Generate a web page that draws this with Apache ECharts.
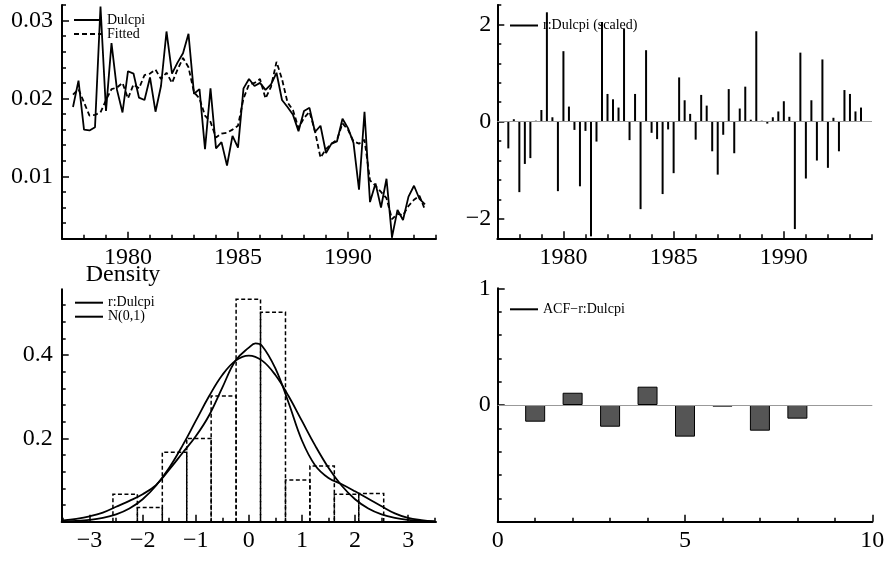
<!DOCTYPE html>
<html>
<head>
<meta charset="utf-8">
<script src="https://cdn.jsdelivr.net/npm/echarts@6.0.0/dist/echarts.min.js"></script>
<style>
html,body{margin:0;padding:0;background:#fff;}
#chart{width:889px;height:561px;}
</style>
</head>
<body>
<div id="chart"></div>
<script>
// ---------- DATA ----------
const startQuarter = 1977.5; // first observation 1977 Q3, quarterly
const dulcpi = [0.0189,0.0223,0.0160,0.0159,0.0163,0.0318,0.0184,0.0271,0.0211,0.0182,
 0.0235,0.0232,0.0201,0.0198,0.0227,0.0183,0.0216,0.0286,0.0232,0.0246,
 0.0258,0.0283,0.0206,0.0212,0.0135,0.0213,0.0136,0.0144,0.0114,0.0152,
 0.0137,0.0213,0.0225,0.0216,0.0220,0.0211,0.0218,0.0233,0.0198,0.0189,
 0.0179,0.0158,0.0184,0.0188,0.0157,0.0165,0.0130,0.0142,0.0145,0.0174,
 0.0162,0.0143,0.0083,0.0183,0.0067,0.0091,0.0060,0.0097,0.0022,0.0057,
 0.0044,0.0074,0.0088,0.0071,0.0064];
const fitted = [0.0205,0.0212,0.0195,0.0178,0.0179,0.0182,0.0198,0.0212,0.0214,0.0220,
 0.0200,0.0218,0.0213,0.0230,0.0232,0.0237,0.0225,0.0233,0.0220,0.0237,
 0.0252,0.0240,0.0208,0.0200,0.0178,0.0170,0.0150,0.0155,0.0156,0.0160,
 0.0165,0.0200,0.0218,0.0220,0.0225,0.0200,0.0215,0.0247,0.0225,0.0195,
 0.0185,0.0162,0.0175,0.0183,0.0158,0.0124,0.0135,0.0142,0.0147,0.0168,
 0.0160,0.0145,0.0142,0.0147,0.0095,0.0088,0.0080,0.0072,0.0045,0.0052,
 0.0050,0.0062,0.0070,0.0075,0.0057];
const residScaled = [-0.55,0.05,-1.45,-0.87,-0.75,0.02,0.24,2.25,0.09,-1.43,
 1.45,0.31,-0.17,-1.33,-0.19,-2.36,-0.41,2.05,0.57,0.46,
 0.29,1.91,-0.38,0.57,-1.80,1.47,-0.23,-0.36,-1.49,-0.16,
 -1.06,0.91,0.44,0.16,-0.37,0.55,0.33,-0.61,-1.09,-0.27,
 0.67,-0.65,0.27,0.72,0.04,1.86,0.02,-0.04,0.09,0.21,
 0.42,0.10,-2.21,1.42,-1.17,0.44,-0.80,1.28,-0.95,0.08,
 -0.61,0.65,0.57,0.21,0.29];
const binEdges = [-2.56,-2.10,-1.63,-1.17,-0.71,-0.24,0.22,0.69,1.15,1.61,2.07,2.54];
const binDensity = [0.066,0.034,0.167,0.200,0.302,0.534,0.503,0.100,0.134,0.066,0.068];
const kernelX = [-3.5,-3.25,-3,-2.75,-2.5,-2.25,-2,-1.75,-1.5,-1.25,-1,-0.75,-0.5,-0.25,0,0.125,
 0.25,0.5,0.75,1,1.25,1.5,1.75,2,2.25,2.5,2.75,3,3.25,3.5];
const kernelDens = [0.003,0.007,0.013,0.022,0.036,0.050,0.066,0.088,0.125,0.165,0.205,0.255,0.322,0.387,0.418,0.428,
 0.422,0.368,0.285,0.195,0.135,0.105,0.090,0.073,0.055,0.037,0.020,0.009,0.004,0.001];
const normalX = [-3.5,-3.25,-3,-2.75,-2.5,-2.25,-2,-1.75,-1.5,-1.25,-1,-0.75,-0.5,-0.25,0,
 0.25,0.5,0.75,1,1.25,1.5,1.75,2,2.25,2.5,2.75,3,3.25,3.5];
const normalDens = [0.0009,0.0020,0.0044,0.0091,0.0175,0.0317,0.0540,0.0863,0.1295,0.1826,0.2420,0.3011,0.3521,0.3867,0.3989,
 0.3867,0.3521,0.3011,0.2420,0.1826,0.1295,0.0863,0.0540,0.0317,0.0175,0.0091,0.0044,0.0020,0.0009];
const lags = [1,2,3,4,5,6,7,8];
const acf = [-0.143,0.105,-0.186,0.157,-0.271,-0.014,-0.220,-0.117];

// tick labels / tick positions
const yearLabels = [1980,1985,1990];
const yearMinor = [1978,1979,1981,1982,1983,1984,1986,1987,1988,1989,1991,1992,1993,1994];
const tlYLabels = [0.01,0.02,0.03];
const tlYMinor = [0.004,0.006,0.008,0.012,0.014,0.016,0.018,0.022,0.024,0.026,0.028,0.032];
const trYLabels = [-2,0,2];
const trYMinor = [-2.4,-1.6,-1.2,-0.8,-0.4,0.4,0.8,1.2,1.6,2.4];
const blXLabels = [-3,-2,-1,0,1,2,3];
const blXMinor = [-3.5,-2.5,-1.5,-0.5,0.5,1.5,2.5,3.5];
const blYLabels = [0.2,0.4];
const blYMinor = [0.04,0.08,0.12,0.16,0.24,0.28,0.32,0.36,0.44,0.48,0.52];
const brXLabels = [0,5,10];
const brXMinor = [1,2,3,4,6,7,8,9];
const brYLabels = [0,1];
const brYMinor = [-1,-0.8,-0.6,-0.4,-0.2,0.2,0.4,0.6,0.8];

// ---------- BUILD ----------
const quarters = dulcpi.map((_, i) => startQuarter + 0.25 * i);
const FONT = 'Liberation Serif';
const minus = v => String(v).replace('-', '\u2212');

function axisPair(dim, gridIndex, min, max, labels, minors, fmt, margin) {
  const pos = dim === 'x' ? 'bottom' : 'left';
  const main = {
    type: 'value', gridIndex, min, max, position: pos,
    axisLine: {show: true, onZero: false, lineStyle: {color: '#000', width: 2}},
    axisTick: {show: true, inside: true, length: 7, customValues: labels, lineStyle: {color: '#000', width: 1.5}},
    axisLabel: {show: true, customValues: labels, formatter: fmt, margin,
      fontFamily: FONT, fontSize: 24, color: '#000'},
    splitLine: {show: false}
  };
  const aux = {
    type: 'value', gridIndex, min, max, position: pos,
    axisLine: {show: false, onZero: false},
    axisTick: {show: true, inside: true, length: 4, customValues: minors, lineStyle: {color: '#000', width: 1.5}},
    axisLabel: {show: false},
    splitLine: {show: false}
  };
  return [main, aux];
}

const xAxes = [].concat(
  axisPair('x', 0, 1977, 1994, yearLabels, yearMinor, v => String(v), 7),
  axisPair('x', 1, 1977, 1994, yearLabels, yearMinor, v => String(v), 7),
  axisPair('x', 2, -3.525, 3.525, blXLabels, blXMinor, minus, 7),
  axisPair('x', 3, 0, 10, brXLabels, brXMinor, v => String(v), 7)
);
const yAxes = [].concat(
  axisPair('y', 0, 0.002, 0.032, tlYLabels, tlYMinor, v => v.toFixed(2), 9),
  axisPair('y', 1, -2.4, 2.4, trYLabels, trYMinor, minus, 6),
  axisPair('y', 2, 0, 0.558, blYLabels, blYMinor, v => String(v), 9),
  axisPair('y', 3, -1, 1, brYLabels, brYMinor, minus, 7)
);
yAxes[4].name = 'Density';
yAxes[4].nameLocation = 'end';
yAxes[4].nameGap = 3;
yAxes[4].nameTextStyle = {fontFamily: FONT, fontSize: 24, color: '#000', align: 'left', padding: [0, 0, 0, 24]};

const zeroLine = {silent: true, symbol: 'none', label: {show: false},
  lineStyle: {color: '#999', width: 1, type: 'solid'}, data: [{yAxis: 0}], animation: false};

const legendText = {fontFamily: FONT, fontSize: 14, color: '#000'};
const hiddenSymbol = {opacity: 0, borderWidth: 0};
const option = {
  animation: false,
  backgroundColor: '#fff',
  grid: [
    {left: 62, top: 5, width: 374, height: 233.7},
    {left: 497.3, top: 5, width: 374.7, height: 233.3},
    {left: 61.7, top: 289.3, width: 374.3, height: 232.4},
    {left: 497.7, top: 288.3, width: 374.6, height: 233.4}
  ],
  xAxis: xAxes,
  yAxis: yAxes,
  legend: [
    {data: ['Dulcpi', 'Fitted'], left: 73, top: 13, orient: 'vertical', itemWidth: 28, itemHeight: 14, itemGap: 0, padding: 0, selectedMode: false, textStyle: legendText, itemStyle: hiddenSymbol},
    {data: [{name: 'r:Dulcpi (scaled)', icon: 'rect', itemStyle: {color: '#000', borderWidth: 0}}], left: 510, top: 18.5, itemWidth: 28, itemHeight: 2, padding: 0, selectedMode: false, textStyle: legendText},
    {data: ['r:Dulcpi', 'N(0,1)'], left: 74, top: 295.7, orient: 'vertical', itemWidth: 28, itemHeight: 14, itemGap: 0, padding: 0, selectedMode: false, textStyle: legendText, itemStyle: hiddenSymbol},
    {data: [{name: 'ACF\u2212r:Dulcpi', icon: 'rect', itemStyle: {color: '#000', borderWidth: 0}}], left: 510, top: 302.3, itemWidth: 28, itemHeight: 2, padding: 0, selectedMode: false, textStyle: legendText}
  ],
  series: [
    {name: 'Dulcpi', type: 'line', xAxisIndex: 0, yAxisIndex: 0, symbol: 'none',
     data: quarters.map((t, i) => [t, dulcpi[i]]),
     lineStyle: {color: '#000', width: 1.8}, itemStyle: {color: '#000'}, z: 3},
    {name: 'Fitted', type: 'line', xAxisIndex: 0, yAxisIndex: 0, symbol: 'none',
     data: quarters.map((t, i) => [t, fitted[i]]),
     lineStyle: {color: '#000', width: 1.8, type: [5, 3]}, itemStyle: {color: '#000'}, z: 2},
    {name: 'r:Dulcpi (scaled)', type: 'bar', xAxisIndex: 2, yAxisIndex: 2, barWidth: 2,
     data: quarters.map((t, i) => [t, residScaled[i]]),
     itemStyle: {color: '#000'}, markLine: zeroLine},
    {name: 'hist', type: 'custom', xAxisIndex: 4, yAxisIndex: 4,
     data: binDensity.map((d, i) => [binEdges[i], binEdges[i + 1], d]),
     encode: {x: [0, 1], y: 2},
     renderItem: function (params, api) {
       const p0 = api.coord([api.value(0), 0]);
       const p1 = api.coord([api.value(1), api.value(2)]);
       return {type: 'polyline', shape: {points: [[p0[0], p0[1]], [p0[0], p1[1]], [p1[0], p1[1]], [p1[0], p0[1]]]},
         style: {fill: null, stroke: '#000', lineWidth: 1.5, lineDash: [4, 2.5]}};
     }},
    {name: 'r:Dulcpi', type: 'line', xAxisIndex: 4, yAxisIndex: 4, symbol: 'none', smooth: 0.4,
     data: kernelX.map((x, i) => [x, kernelDens[i]]),
     lineStyle: {color: '#000', width: 1.8}, itemStyle: {color: '#000'}},
    {name: 'N(0,1)', type: 'line', xAxisIndex: 4, yAxisIndex: 4, symbol: 'none', smooth: 0.4,
     data: normalX.map((x, i) => [x, normalDens[i]]),
     lineStyle: {color: '#000', width: 1.8}, itemStyle: {color: '#000'}},
    {name: 'ACF\u2212r:Dulcpi', type: 'bar', xAxisIndex: 6, yAxisIndex: 6, barWidth: 20,
     data: lags.map((l, i) => [l, acf[i]]),
     itemStyle: {color: '#555', borderColor: '#000', borderWidth: 1}, markLine: zeroLine}
  ]
};
const chart = echarts.init(document.getElementById('chart'), null, {renderer: 'canvas'});
chart.setOption(option);
</script>
</body>
</html>
